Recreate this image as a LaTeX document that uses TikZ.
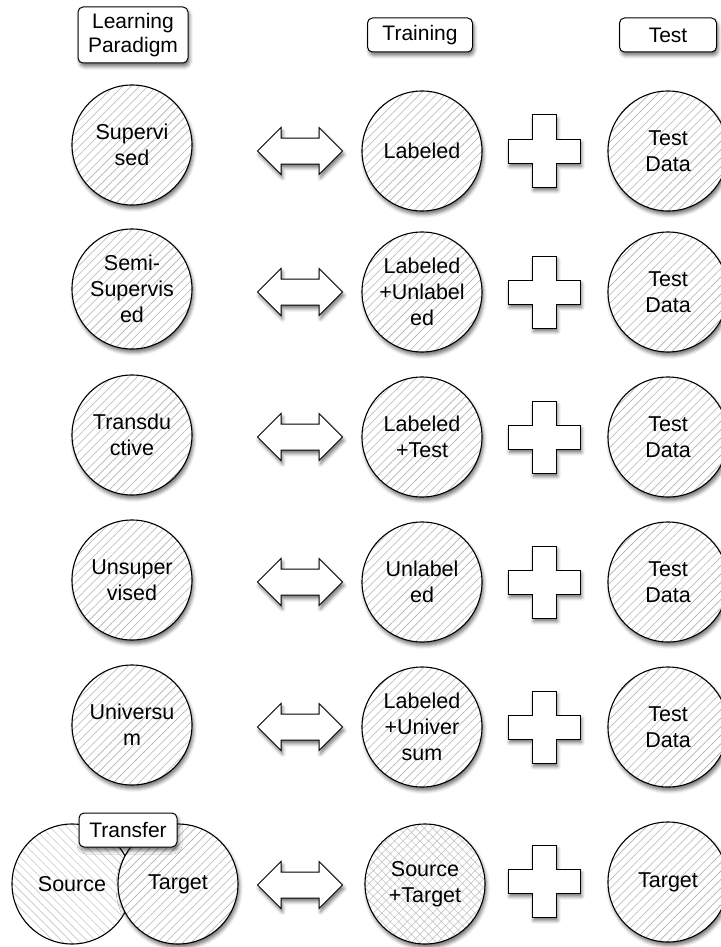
\documentclass[tikz,border=0pt]{standalone}
\usepackage{fontspec}
\setmainfont{Liberation Sans}
\usetikzlibrary{positioning, patterns.meta, shapes.arrows, shadows.blur}

\newcommand{\diagfont}{\fontsize{21.5}{26}\selectfont}
\newcommand{\headfont}{\fontsize{21}{24}\selectfont}

\begin{document}
\begin{tikzpicture}[x=1pt, y=-1pt,
    soft/.style={blur shadow={shadow xshift=1.5pt, shadow yshift=-3.5pt, shadow blur radius=3.5pt, shadow opacity=55}},
    hatchbase/.style={circle, draw, line width=1.1pt, minimum size=120pt, inner sep=0pt, align=center, font=\diagfont,
        preaction={fill=white}, pattern={Lines[angle=45, distance=6pt, line width=0.6pt]}, pattern color=black!30},
    data/.style={soft, hatchbase},
    head/.style={draw, line width=1pt, rounded corners=5pt, fill=white, soft, align=center, font=\headfont,
        minimum height=34pt, inner sep=2pt},
    pairarrow/.style={double arrow, draw, line width=1pt, fill=white, soft, minimum height=85pt, minimum width=46pt,
        inner sep=0pt, inner ysep=12.5pt, double arrow head extend=10.5pt},
    plussign/.pic={\draw[line width=1pt, fill=white, soft] (-12,-36) -- (12,-36) -- (12,-12) -- (36,-12) -- (36,12)
        -- (12,12) -- (12,36) -- (-12,36) -- (-12,12) -- (-36,12) -- (-36,-12) -- (-12,-12) -- cycle;}]
    \useasboundingbox (0,0) rectangle (720,947);

    % column heads
    \node[head, minimum width=110pt, minimum height=56pt] (paradigm) at (133,35) {Learning\\Paradigm};
    \node[head, minimum width=105pt] (training) at (420,35) {Training};
    \node[head, minimum width=97pt] (test) at (668,35) {Test};

    \foreach \i/\ly/\ry/\para/\train in {1/145/151/{Supervi\\sed}/{Labeled},
        2/289/292/{Semi-\\Supervis\\ed}/{Labeled\\+Unlabel\\ed},
        3/435/437/{Transdu\\ctive}/{Labeled\\+Test},
        4/580/582/{Unsuper\\vised}/{Unlabel\\ed},
        5/725/727/{Universu\\m}/{Labeled\\+Univer\\sum}} {
        \node[data] (para\i) at (132,\ly) {\para};
        \node[pairarrow] (arr\i) at (300,\ry) {};
        \node[data] (train\i) at (422,\ry) {\train};
        \pic at (544,\ry) {plussign};
        \node[data] (test\i) at (668,\ry) {Test\\Data};
    }

    % transfer row
    \node[hatchbase, pattern={Lines[angle=-45, distance=6pt, line width=0.6pt]}, pattern color=black!22] (source) at (72,884) {Source};
    \node[data] (target) at (178,884) {Target};
    \node[head, minimum width=98pt] (transfer) at (128,830) {Transfer};
    \node[pairarrow] (arr6) at (300,885) {};
    \node[data, pattern={Hatch[angle=45, distance=6pt, line width=0.5pt]}, pattern color=black!25] (train6) at (425,884) {Source\\+Target};
    \pic at (544,881) {plussign};
    \node[data] (test6) at (668,882) {Target};
\end{tikzpicture}
\end{document}
